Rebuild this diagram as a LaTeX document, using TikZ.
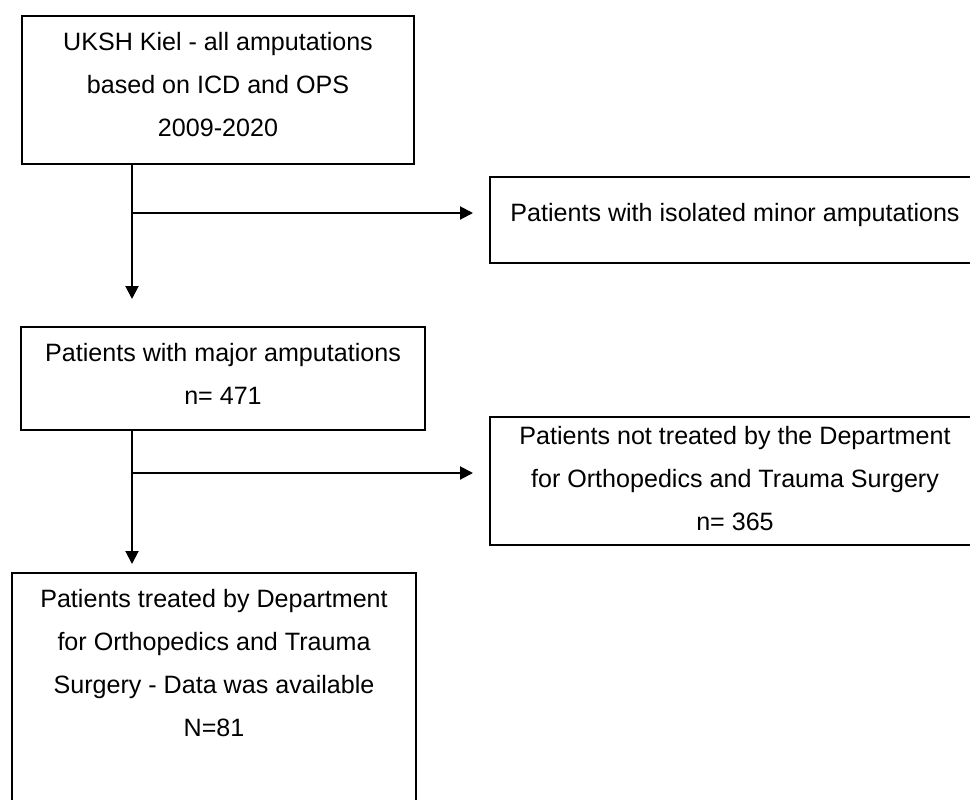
\documentclass[tikz,border=0pt]{standalone}
\usepackage{fontspec}
\setmainfont{Liberation Sans}
\usetikzlibrary{arrows.meta}

\tikzset{
  box/.style={draw, line width=1pt, rectangle, inner sep=0pt},
  txt/.style={align=center, inner sep=0pt, font=\fontsize{12.55}{21.5}\selectfont},
  flow/.style={line width=1pt, -{Triangle[length=6.5pt,width=6.5pt]}},
}

\begin{document}
\begin{tikzpicture}[x=0.5pt, y=-0.5pt]
  \clip (0,0) rectangle (970,799);
  % Boxes
  \node[box, minimum width=196pt, minimum height=74pt] (uksh) at (218,90) {};
  \node[box, minimum width=260pt, minimum height=43pt] (minor) at (750,220) {};
  \node[box, minimum width=202pt, minimum height=51.5pt] (major) at (223,378.5) {};
  \node[box, minimum width=260pt, minimum height=64pt] (nottreated) at (750,481) {};
  \node[box, minimum width=202pt, minimum height=133.5pt] (treated) at (214,706.5) {};

  % Texts
  \node[txt] (uksh-txt) at (218,85) {UKSH Kiel - all amputations\\based on ICD and OPS\\2009-2020};
  \node[txt] (minor-txt) at (735,215) {Patients with isolated minor amputations};
  \node[txt] (major-txt) at (223,373.5) {Patients with major amputations\\n= 471};
  \node[txt] (nottreated-txt) at (735,479) {Patients not treated by the Department\\for Orthopedics and Trauma Surgery\\n= 365};
  \node[txt] (treated-txt) at (214,663) {Patients treated by Department\\for Orthopedics and Trauma\\Surgery - Data was available\\N=81};

  % Flow
  \coordinate (trunk) at (132,0);
  \coordinate (split1) at (132,213);
  \coordinate (split2) at (132,473);
  \draw[flow, shorten >=13.5pt] (uksh.south -| trunk) -- (major.north -| trunk);
  \draw[flow, shorten >=8pt] (split1) -- (split1 -| minor.west);
  \draw[flow, shorten >=4pt] (major.south -| trunk) -- (treated.north -| trunk);
  \draw[flow, shorten >=8pt] (split2) -- (split2 -| nottreated.west);
\end{tikzpicture}
\end{document}
